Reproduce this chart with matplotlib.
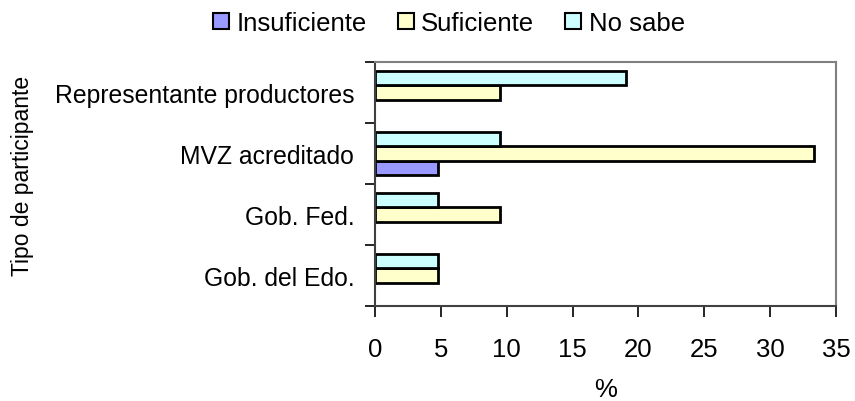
import numpy as np
import matplotlib.pyplot as plt
from matplotlib.patches import Patch

plt.rcParams['font.family'] = ['Liberation Sans', 'DejaVu Sans']

categorias = ['Gob. del Edo.', 'Gob. Fed.', 'MVZ acreditado', 'Representante productores']
insuficiente = [0, 0, 4.76, 0]
suficiente = [4.76, 9.52, 33.33, 9.52]
no_sabe = [4.76, 4.76, 9.52, 19.05]
series = ['Insuficiente', 'Suficiente', 'No sabe']
colores = ['#9999FF', '#FFFFCC', '#CCFFFF']

fs = 18.5
fig = plt.figure(figsize=(8.55, 4.02), dpi=100)
ax = fig.add_axes([375 / 855, 1 - 307 / 402, 461 / 855, 244 / 402])

y = np.arange(len(categorias))
h = 0.235
for k, vals in enumerate([insuficiente, suficiente, no_sabe]):
    vals = np.array(vals, dtype=float)
    m = vals > 0  # no outline for empty bars
    ax.barh(y[m] + (k - 1) * h, vals[m], height=h, color=colores[k],
            edgecolor='black', linewidth=2)

ax.set_xlim(0, 35)
ax.set_ylim(-0.5, len(categorias) - 0.5)
ax.set_xticks(range(0, 36, 5))
ax.set_yticks(y)
ax.set_yticklabels(categorias)
ax.set_yticks(np.arange(-0.5, len(categorias), 1), minor=True)
ax.tick_params(axis='y', which='major', length=0, pad=15, labelsize=17.8)
ax.tick_params(axis='y', which='minor', length=7, width=1.2)
ax.tick_params(axis='x', length=8, width=1.2, labelsize=fs, pad=14)

for s in ax.spines.values():
    s.set_color('#808080')
    s.set_linewidth(1.5)
ax.spines['left'].set_color('#404040')
ax.spines['bottom'].set_color('#404040')

ax.set_xlabel('%', fontsize=fs, labelpad=12)
fig.text(22 / 855, 1 - 176 / 402, 'Tipo de participante', rotation=90,
         ha='center', va='center', fontsize=16.5)

handles = [Patch(facecolor=c, edgecolor='black', linewidth=1.5) for c in colores]
fig.legend(handles, series, loc='center', bbox_to_anchor=(449 / 855, 1 - 24 / 402),
           ncol=3, frameon=False, fontsize=fs, handlelength=0.62,
           handleheight=0.62, handletextpad=0.3, columnspacing=1.2,
           borderpad=0)

fig.savefig('out.png', dpi=100)
